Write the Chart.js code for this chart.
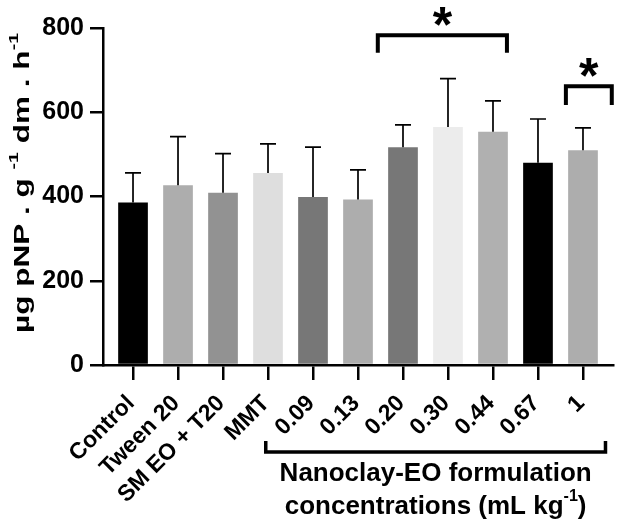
<!DOCTYPE html>
<html>
<head>
<meta charset="utf-8">
<script src="https://cdn.jsdelivr.net/npm/chart.js@4.4.1/dist/chart.umd.min.js"></script>
<style>
  html, body { margin: 0; padding: 0; background: #fff; }
  #wrap { width: 618px; height: 529px; }
</style>
</head>
<body>
<div id="wrap"><canvas id="c"></canvas></div>
<script>
const labels = ['Control', 'Tween 20', 'SM EO + T20', 'MMT', '0.09', '0.13', '0.20', '0.30', '0.44', '0.67', '1'];
const means = [386, 427, 409, 456, 399, 393, 517, 565, 554, 480, 510];
const errors = [70, 115, 93, 69, 118, 70, 53, 115, 73, 104, 53];
const barColors = ['#000000', '#adadad', '#929292', '#dedede', '#777777', '#adadad',
                   '#777777', '#ececec', '#b0b0b0', '#000000', '#adadad'];
const yTicks = [0, 200, 400, 600, 800];

// significance brackets (x in category index units, y in axis units)
const sigFrom = [5.44, 9.62];
const sigTo = [8.31, 10.64];
const sigTop = [783, 662];
const sigDrop = [42, 45];

const FONT = "'Liberation Sans', Arial, Helvetica, sans-serif";

// draws text parts, some as superscript, starting at x (left aligned)
function drawParts(ctx, parts, x, y, size) {
  parts.forEach(p => {
    const s = p.sup ? size * 0.62 : size;
    ctx.font = 'bold ' + s + 'px ' + FONT;
    ctx.fillText(p.t, x, p.sup ? y - size * 0.42 : y);
    x += ctx.measureText(p.t).width;
  });
}
function partsWidth(ctx, parts, size) {
  let w = 0;
  parts.forEach(p => {
    ctx.font = 'bold ' + (p.sup ? size * 0.62 : size) + 'px ' + FONT;
    w += ctx.measureText(p.t).width;
  });
  return w;
}

const extras = {
  id: 'extras',
  afterDatasetsDraw(chart) {
    const ctx = chart.ctx, x = chart.scales.x, y = chart.scales.y;
    ctx.save();
    ctx.strokeStyle = '#000';
    ctx.lineWidth = 1.7;
    means.forEach((m, i) => {
      const px = x.getPixelForValue(i);
      const y0 = y.getPixelForValue(m), y1 = y.getPixelForValue(m + errors[i]);
      ctx.beginPath();
      ctx.moveTo(px, y0); ctx.lineTo(px, y1);
      ctx.moveTo(px - 8, y1); ctx.lineTo(px + 8, y1);
      ctx.stroke();
    });
    ctx.restore();
  },
  afterDraw(chart) {
    const ctx = chart.ctx, x = chart.scales.x, y = chart.scales.y, area = chart.chartArea;
    ctx.save();
    ctx.fillStyle = '#000';
    ctx.strokeStyle = '#000';
    ctx.lineWidth = 4;
    ctx.lineJoin = 'miter';

    // significance brackets + asterisks
    sigFrom.forEach((f, i) => {
      const xa = x.getPixelForValue(f), xb = x.getPixelForValue(sigTo[i]);
      const yt = y.getPixelForValue(sigTop[i]), yd = y.getPixelForValue(sigTop[i] - sigDrop[i]);
      ctx.beginPath();
      ctx.moveTo(xa, yd); ctx.lineTo(xa, yt); ctx.lineTo(xb, yt); ctx.lineTo(xb, yd);
      ctx.stroke();
      ctx.font = 'bold 50px ' + FONT;
      ctx.textAlign = 'center';
      ctx.textBaseline = 'alphabetic';
      ctx.fillText('*', (xa + xb) / 2, yt - 22 + 50 * 0.58);
    });

    // bracket under the formulation concentrations
    const bx0 = x.getPixelForValue(2.95), bx1 = x.getPixelForValue(10.5);
    const by = area.bottom + 87;
    ctx.lineWidth = 3.5;
    ctx.beginPath();
    ctx.moveTo(bx0, by - 11); ctx.lineTo(bx0, by); ctx.lineTo(bx1, by); ctx.lineTo(bx1, by - 11);
    ctx.stroke();

    // x title (two lines)
    const cx = (bx0 + bx1) / 2;
    ctx.textBaseline = 'middle';
    ctx.textAlign = 'left';
    const l1 = [{ t: 'Nanoclay-EO formulation' }];
    const l2 = [{ t: 'concentrations (mL kg' }, { t: '-1', sup: true }, { t: ')' }];
    drawParts(ctx, l1, cx - partsWidth(ctx, l1, 26) / 2, area.bottom + 109, 26);
    drawParts(ctx, l2, cx - partsWidth(ctx, l2, 26) / 2, area.bottom + 142, 26);

    // y title (rotated)
    const yp = [{ t: 'µg pNP . g ' }, { t: '-1', sup: true }, { t: ' dm . h' }, { t: '-1', sup: true }];
    const w = partsWidth(ctx, yp, 22);
    ctx.translate(23, 183);
    ctx.rotate(-Math.PI / 2);
    ctx.scale(300 / w, 1);
    drawParts(ctx, yp, -w / 2, 0, 22);
    ctx.restore();
  }
};

new Chart(document.getElementById('c'), {
  type: 'bar',
  data: {
    datasets: [{
      data: means.map((v, i) => ({ x: i, y: v })),
      backgroundColor: barColors,
      borderWidth: 0,
      barPercentage: 0.66,
      categoryPercentage: 1
    }]
  },
  options: {
    responsive: true,
    maintainAspectRatio: false,
    animation: false,
    layout: { padding: { top: 28, right: 5, left: 0, bottom: 0 } },
    plugins: { legend: { display: false }, tooltip: { enabled: false } },
    scales: {
      x: {
        type: 'linear',
        offset: false,
        min: -0.667,
        max: 10.667,
        afterBuildTicks: s => { s.ticks = labels.map((_, i) => ({ value: i })); },
        afterFit: s => { s.height = 164; s.paddingLeft = 0; s.paddingRight = 0; },
        grid: { offset: false, drawOnChartArea: false, color: '#000', lineWidth: 2.5, tickLength: 15 },
        border: { color: '#000', width: 2.5 },
        ticks: {
          autoSkip: false,
          minRotation: 45,
          maxRotation: 45,
          padding: 10,
          labelOffset: -2,
          color: '#000',
          font: { family: FONT, size: 23, weight: 'bold' },
          callback: v => labels[v]
        }
      },
      y: {
        min: 0,
        max: 800,
        afterBuildTicks: s => { s.ticks = yTicks.map(v => ({ value: v })); },
        afterFit: s => { s.width = 103; },
        grid: { drawOnChartArea: false, color: '#000', lineWidth: 2.5, tickLength: 13 },
        border: { color: '#000', width: 2.5 },
        ticks: {
          padding: 6,
          color: '#000',
          font: { family: FONT, size: 25, weight: 'bold' }
        }
      }
    }
  },
  plugins: [extras]
});
</script>
</body>
</html>
